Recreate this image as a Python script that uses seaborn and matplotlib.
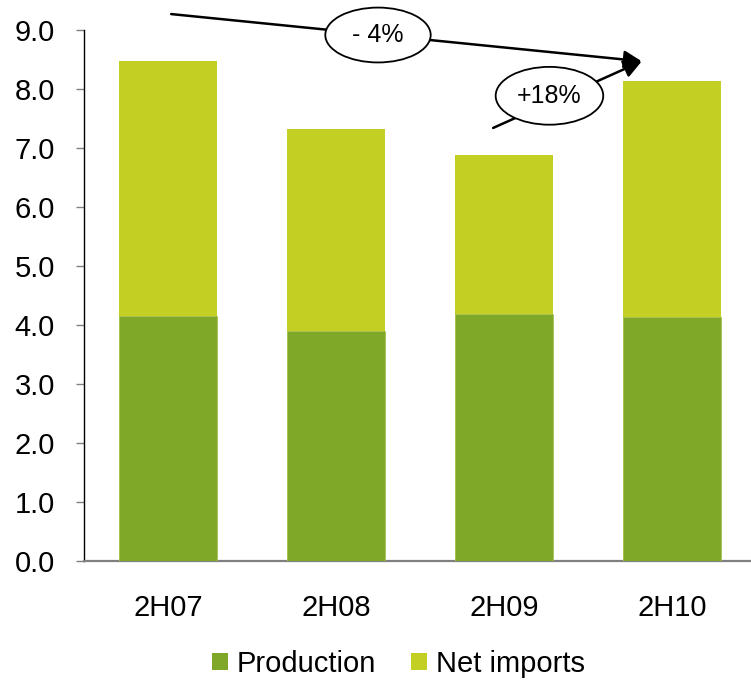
import matplotlib
matplotlib.use("Agg")
import matplotlib.pyplot as plt
from matplotlib.patches import Ellipse, Patch
import seaborn as sns
import pandas as pd

# Half-year volumes
periods = ["2H07", "2H08", "2H09", "2H10"]
production = [4.16, 3.90, 4.19, 4.14]
net_imports = [4.31, 3.42, 2.69, 4.00]
y_ticks = [0.0, 1.0, 2.0, 3.0, 4.0, 5.0, 6.0, 7.0, 8.0, 9.0]

PROD_COLOR = "#7FA828"
IMP_COLOR = "#C3CF22"

sns.set_style("white")
plt.rcParams["font.family"] = ["Liberation Sans", "DejaVu Sans"]
plt.rcParams["text.color"] = "black"
plt.rcParams["xtick.labelcolor"] = "black"
plt.rcParams["ytick.labelcolor"] = "black"

df = pd.DataFrame({
    "period": periods,
    "production": production,
    "net_imports": net_imports,
})
df["total"] = df["production"] + df["net_imports"]

fig = plt.figure(figsize=(7.51, 6.82), dpi=100)
ax = fig.add_axes([84 / 751, 121 / 682, 667 / 751, 531 / 682])

# Stacked bars: total height in the imports colour, production drawn over it
sns.barplot(data=df, x="period", y="total", color=IMP_COLOR, saturation=1,
            width=0.585, ax=ax, zorder=2, edgecolor="none", linewidth=0)
sns.barplot(data=df, x="period", y="production", color=PROD_COLOR, saturation=1,
            width=0.585, ax=ax, zorder=3, edgecolor="#A9C455", linewidth=0.6)

ax.set_xlim(-0.5, 3.468)
ax.set_ylim(0, 9)
ax.set_yticks(y_ticks)
ax.set_yticklabels([f"{v:.1f}" for v in y_ticks])
ax.set_xlabel("")
ax.set_ylabel("")

ax.tick_params(axis="y", which="major", direction="out", length=6, width=1,
               color="#808080", pad=15, labelsize=21, left=True,
               labelcolor="black")
ax.tick_params(axis="x", length=0, pad=24, labelsize=21, labelcolor="black")

for side in ("top", "right"):
    ax.spines[side].set_visible(False)
ax.spines["left"].set_color("#000000")
ax.spines["left"].set_linewidth(1.0)
ax.spines["bottom"].set_color("#808080")
ax.spines["bottom"].set_linewidth(1.6)

# Change arrows
tip = (2.818, 8.47)
arrow_style = "-|>,head_length=0.6,head_width=0.3"
ax.annotate("", xy=tip, xytext=(0.0185, 9.27),
            arrowprops=dict(arrowstyle=arrow_style, color="black", lw=1.8,
                            mutation_scale=18, shrinkA=0, shrinkB=0),
            annotation_clip=False, zorder=5)
ax.annotate("", xy=tip, xytext=(1.934, 7.34),
            arrowprops=dict(arrowstyle=arrow_style, color="black", lw=1.8,
                            mutation_scale=18, shrinkA=0, shrinkB=0),
            annotation_clip=False, zorder=5)

# Percentage change bubbles
for (cx, cy, w, h, label) in [(1.249, 8.915, 0.627, 0.93, "- 4%"),
                              (2.269, 7.885, 0.64, 0.98, "+18%")]:
    e = Ellipse((cx, cy), w, h, facecolor="white", edgecolor="black",
                linewidth=1.3, zorder=6, clip_on=False)
    ax.add_patch(e)
    ax.text(cx, cy, label, ha="center", va="center", fontsize=18,
            color="black", zorder=7, clip_on=False)

handles = [Patch(facecolor=PROD_COLOR, edgecolor="none", label="Production"),
           Patch(facecolor=IMP_COLOR, edgecolor="none", label="Net imports")]
fig.legend(handles=handles, loc="center", bbox_to_anchor=(0.53, 1 - 664 / 682),
           ncol=2, frameon=False, fontsize=21, handlelength=0.55,
           handleheight=0.55, handletextpad=0.3, columnspacing=1.2,
           labelcolor="black")

fig.savefig("out.png", dpi=100)
